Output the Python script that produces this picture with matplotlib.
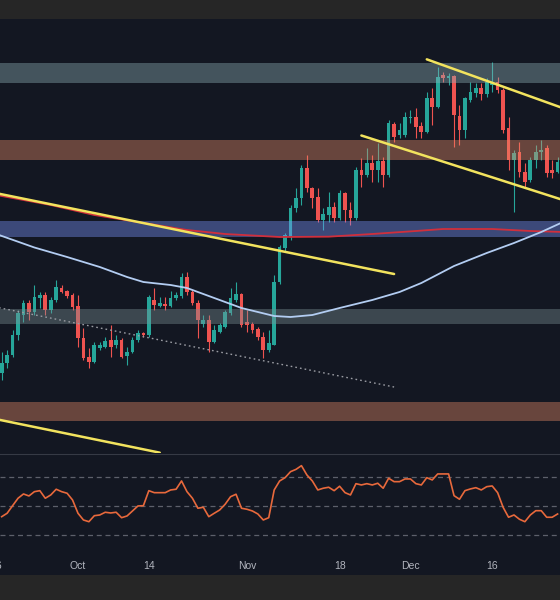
import matplotlib
matplotlib.use("Agg")
import numpy as np
import pandas as pd
import matplotlib.pyplot as plt
import matplotlib.dates as mdates
import matplotlib.transforms as mtransforms
from matplotlib.patches import Rectangle

# daily candles, 2024-09-17 .. 2024-12-28
START = "2024-09-17"
END = "2024-12-28"

opens = [2182, 2242, 2290, 2410, 2530, 2602, 2548, 2632, 2650, 2560,
         2620, 2692, 2674, 2650, 2584, 2392, 2278, 2248, 2332, 2338,
         2380, 2350, 2380, 2284, 2308, 2380, 2422, 2410, 2620, 2584,
         2596, 2584, 2632, 2645, 2758, 2668, 2602, 2476, 2500, 2368,
         2428, 2458, 2542, 2620, 2656, 2488, 2476, 2446, 2398, 2320,
         2350, 2728, 2932, 3000, 3172, 3232, 3412, 3292, 3238, 3100,
         3130, 3178, 3112, 3262, 3160, 3112, 3400, 3370, 3442, 3400,
         3454, 3370, 3676, 3610, 3610, 3712, 3718, 3664, 3628, 3832,
         3778, 3970, 3952, 3964, 3724, 3640, 3820, 3862, 3892, 3856,
         3910, 3928, 3880, 3652, 3460, 3508, 3388, 3340, 3460, 3508,
         3532, 3400, 3388]
highs = [2308, 2320, 2440, 2560, 2620, 2620, 2710, 2668, 2668, 2638,
         2740, 2710, 2680, 2662, 2650, 2452, 2332, 2368, 2368, 2398,
         2470, 2410, 2392, 2338, 2398, 2440, 2428, 2650, 2692, 2638,
         2638, 2674, 2668, 2782, 2788, 2680, 2620, 2530, 2530, 2470,
         2482, 2560, 2692, 2728, 2662, 2560, 2488, 2458, 2428, 2440,
         2770, 2950, 3022, 3190, 3292, 3430, 3490, 3298, 3292, 3172,
         3268, 3208, 3280, 3268, 3208, 3418, 3472, 3532, 3490, 3562,
         3478, 3700, 3688, 3682, 3748, 3760, 3772, 3688, 3868, 3892,
         4018, 3988, 3982, 3970, 3790, 3838, 3928, 3922, 3922, 3952,
         4048, 3958, 3892, 3718, 3520, 3568, 3442, 3478, 3550, 3580,
         3550, 3460, 3478]
lows = [2140, 2212, 2278, 2380, 2488, 2500, 2530, 2572, 2530, 2542,
        2608, 2662, 2632, 2560, 2338, 2260, 2212, 2242, 2320, 2332,
        2278, 2332, 2272, 2230, 2302, 2368, 2398, 2398, 2560, 2578,
        2560, 2578, 2620, 2632, 2650, 2590, 2392, 2458, 2308, 2362,
        2422, 2452, 2530, 2608, 2458, 2428, 2422, 2380, 2272, 2308,
        2350, 2716, 2908, 2980, 3148, 3190, 3268, 3172, 3088, 3040,
        3088, 3088, 3100, 3088, 3070, 3100, 3298, 3358, 3328, 3328,
        3298, 3358, 3568, 3592, 3598, 3682, 3592, 3592, 3622, 3670,
        3772, 3928, 3910, 3538, 3550, 3592, 3808, 3838, 3820, 3838,
        3868, 3862, 3622, 3400, 3148, 3358, 3292, 3328, 3412, 3460,
        3358, 3352, 3382]
closes = [2242, 2290, 2410, 2542, 2602, 2548, 2638, 2650, 2560, 2620,
          2698, 2668, 2644, 2578, 2392, 2272, 2248, 2350, 2350, 2374,
          2338, 2380, 2278, 2308, 2380, 2422, 2410, 2638, 2590, 2602,
          2584, 2632, 2650, 2758, 2668, 2602, 2500, 2500, 2368, 2440,
          2470, 2548, 2632, 2656, 2470, 2470, 2440, 2398, 2320, 2362,
          2728, 2938, 3010, 3172, 3232, 3412, 3292, 3232, 3100, 3136,
          3178, 3112, 3262, 3160, 3112, 3400, 3370, 3442, 3400, 3454,
          3370, 3682, 3598, 3640, 3718, 3718, 3658, 3628, 3832, 3778,
          3958, 3952, 3964, 3730, 3640, 3832, 3868, 3892, 3856, 3928,
          3928, 3880, 3640, 3460, 3502, 3388, 3328, 3460, 3508, 3520,
          3382, 3382, 3448]

rsi = [42.5, 44.9, 50.2, 55.4, 58.4, 57.0, 60.0, 60.7, 55.4, 57.7,
       61.7, 60.0, 58.9, 54.2, 44.9, 40.2, 39.0, 43.2, 43.7, 45.6,
       45.1, 45.6, 41.8, 43.0, 46.5, 50.0, 50.2, 60.7, 59.3, 59.3,
       59.3, 61.2, 61.7, 67.5, 60.0, 55.4, 48.4, 49.1, 42.5, 44.9,
       47.2, 51.2, 56.5, 58.2, 48.4, 47.7, 46.5, 44.4, 40.2, 41.8,
       61.2, 67.5, 69.8, 74.0, 75.6, 78.2, 71.7, 67.5, 61.2, 62.4,
       63.1, 60.7, 63.8, 59.3, 57.7, 65.6, 64.7, 65.6, 64.7, 65.9,
       62.4, 69.4, 67.0, 67.0, 68.9, 68.9, 65.6, 64.7, 69.8, 68.2,
       72.4, 72.4, 72.4, 57.2, 54.7, 60.7, 61.9, 62.8, 61.2, 63.5,
       64.0, 59.3, 49.1, 42.1, 43.7, 40.7, 39.0, 43.7, 46.7, 46.7,
       42.1, 42.1, 44.4]

# moving averages (read at a few dates)
ma100_dates = ["2024-09-16", "2024-09-23", "2024-09-29", "2024-10-05", "2024-10-10",
               "2024-10-13", "2024-10-18", "2024-10-21", "2024-10-24", "2024-10-27",
               "2024-10-31", "2024-11-03", "2024-11-06", "2024-11-09", "2024-11-13",
               "2024-11-18", "2024-11-24", "2024-11-29", "2024-12-03", "2024-12-09",
               "2024-12-15", "2024-12-20", "2024-12-25", "2024-12-29"]
ma100 = [3016, 2935, 2878, 2818, 2758, 2728, 2710, 2692, 2656, 2620,
         2572, 2548, 2524, 2518, 2530, 2572, 2620, 2668, 2722, 2824,
         2902, 2962, 3028, 3088]
ma200_dates = ["2024-09-16", "2024-09-26", "2024-10-04", "2024-10-21", "2024-10-28",
               "2024-11-07", "2024-11-16", "2024-11-24", "2024-12-02", "2024-12-07",
               "2024-12-16", "2024-12-23", "2024-12-29"]
ma200 = [3250, 3190, 3130, 3040, 3016, 2998, 3000, 3016, 3034, 3046,
         3046, 3034, 3028]

# horizontal zones (low, high, colour)
zones = [(3920, 4040, "#8eb0b8"), (3460, 3580, "#ea8c68"), (2996, 3094, "#7a96fe"),
         (2476, 2566, "#7a9195"), (1894, 2010, "#ea8c68")]

# drawn trend lines: (start date, start price, end date, end price)
trend_lines = [("2024-09-16", 3261, "2024-11-28", 2776),
               ("2024-12-04", 4064, "2024-12-29", 3771),
               ("2024-11-22", 3607, "2024-12-29", 3220),
               ("2024-09-16", 1905, "2024-10-16", 1704)]
dotted_line = ("2024-09-16", 2577, "2024-11-28", 2098)

tick_dates = ["2024-10-01", "2024-10-14", "2024-11-01", "2024-11-18", "2024-12-01", "2024-12-16"]
tick_labels = ["Oct", "14", "Nov", "18", "Dec", "16"]

BG = "#131722"
BAR = "#262626"
GREEN = "#26a69a"
RED = "#ef5350"
YELLOW = "#f2e35e"

plt.rcParams["font.family"] = ["Liberation Sans", "DejaVu Sans"]


def num(d):
    return mdates.date2num(pd.to_datetime(d))


def main():
    W, H = 560, 600
    fig = plt.figure(figsize=(5.6, 6), dpi=100, facecolor=BG)
    fig.patches.append(Rectangle((0, 1 - 18.5 / H), 1, 18.5 / H, transform=fig.transFigure,
                                 color=BAR, lw=0))
    fig.patches.append(Rectangle((0, 0), 1, 25 / H, transform=fig.transFigure, color=BAR, lw=0))

    ax = fig.add_axes([0, (H - 452.5) / H, 1, (452.5 - 18.5) / H], facecolor="none")
    ax2 = fig.add_axes([0, (H - 555) / H, 1, (555 - 453.5) / H], facecolor="none")

    x = mdates.date2num(pd.date_range(START, END))
    o, h, l, c = (np.array(v, float) for v in (opens, highs, lows, closes))
    cols = np.where(c >= o, GREEN, RED)
    ax.vlines(x, l, h, colors=cols, lw=0.8, zorder=2)
    ax.bar(x, np.maximum(np.abs(c - o), 5), bottom=np.minimum(o, c), width=0.68,
           color=cols, lw=0, zorder=2)

    for lo, hi, col in zones:
        ax.axhspan(lo, hi, color=col, alpha=0.4, lw=0, zorder=3)

    ax.plot(num(ma200_dates), ma200, color="#d12f3c", lw=1.3, zorder=4)
    ax.plot(num(ma100_dates), ma100, color="#b3cdf2", lw=1.3, zorder=4)

    d0, p0, d1, p1 = dotted_line
    ax.plot([num(d0), num(d1)], [p0, p1], color="#9a9ca3", lw=1.0, ls=(0, (1.2, 2.2)), zorder=4)
    for d0, p0, d1, p1 in trend_lines:
        ax.plot([num(d0), num(d1)], [p0, p1], color=YELLOW, lw=1.8, solid_capstyle="round", zorder=5)

    left = x[0] - 0.31
    right = left + W / 5.45
    for a in (ax, ax2):
        a.set_xlim(left, right)
        for s in a.spines.values():
            s.set_visible(False)
    ax.set_ylim(1705, 4309)
    ax.set_xticks([])
    ax.set_yticks([])

    # RSI pane
    for lev in (70, 50, 30):
        ax2.axhline(lev, color="#5d606b", lw=0.9, ls=(0, (4, 3)))
    ax2.plot(x, rsi, color="#e8693c", lw=1.2)
    ax2.set_ylim(15.7, 86.7)
    ax2.spines["top"].set_visible(True)
    ax2.spines["top"].set_color("#363a45")
    ax2.set_yticks([])
    ax2.set_xticks(num(tick_dates))
    ax2.set_xticklabels(tick_labels)
    ax2.tick_params(axis="x", length=0, pad=4.5, labelsize=7.5, colors="#b2b5be")
    # the "16" of Sep 16 sits half outside the left edge
    trans = mtransforms.blended_transform_factory(ax2.transData, ax2.transAxes)
    ax2.text(num("2024-09-16"), -6.2 / 101.5, "16", transform=trans, ha="center", va="top",
             fontsize=7.5, color="#b2b5be", clip_on=False)

    fig.savefig("out.png", dpi=100, facecolor=BG)


if __name__ == "__main__":
    main()
